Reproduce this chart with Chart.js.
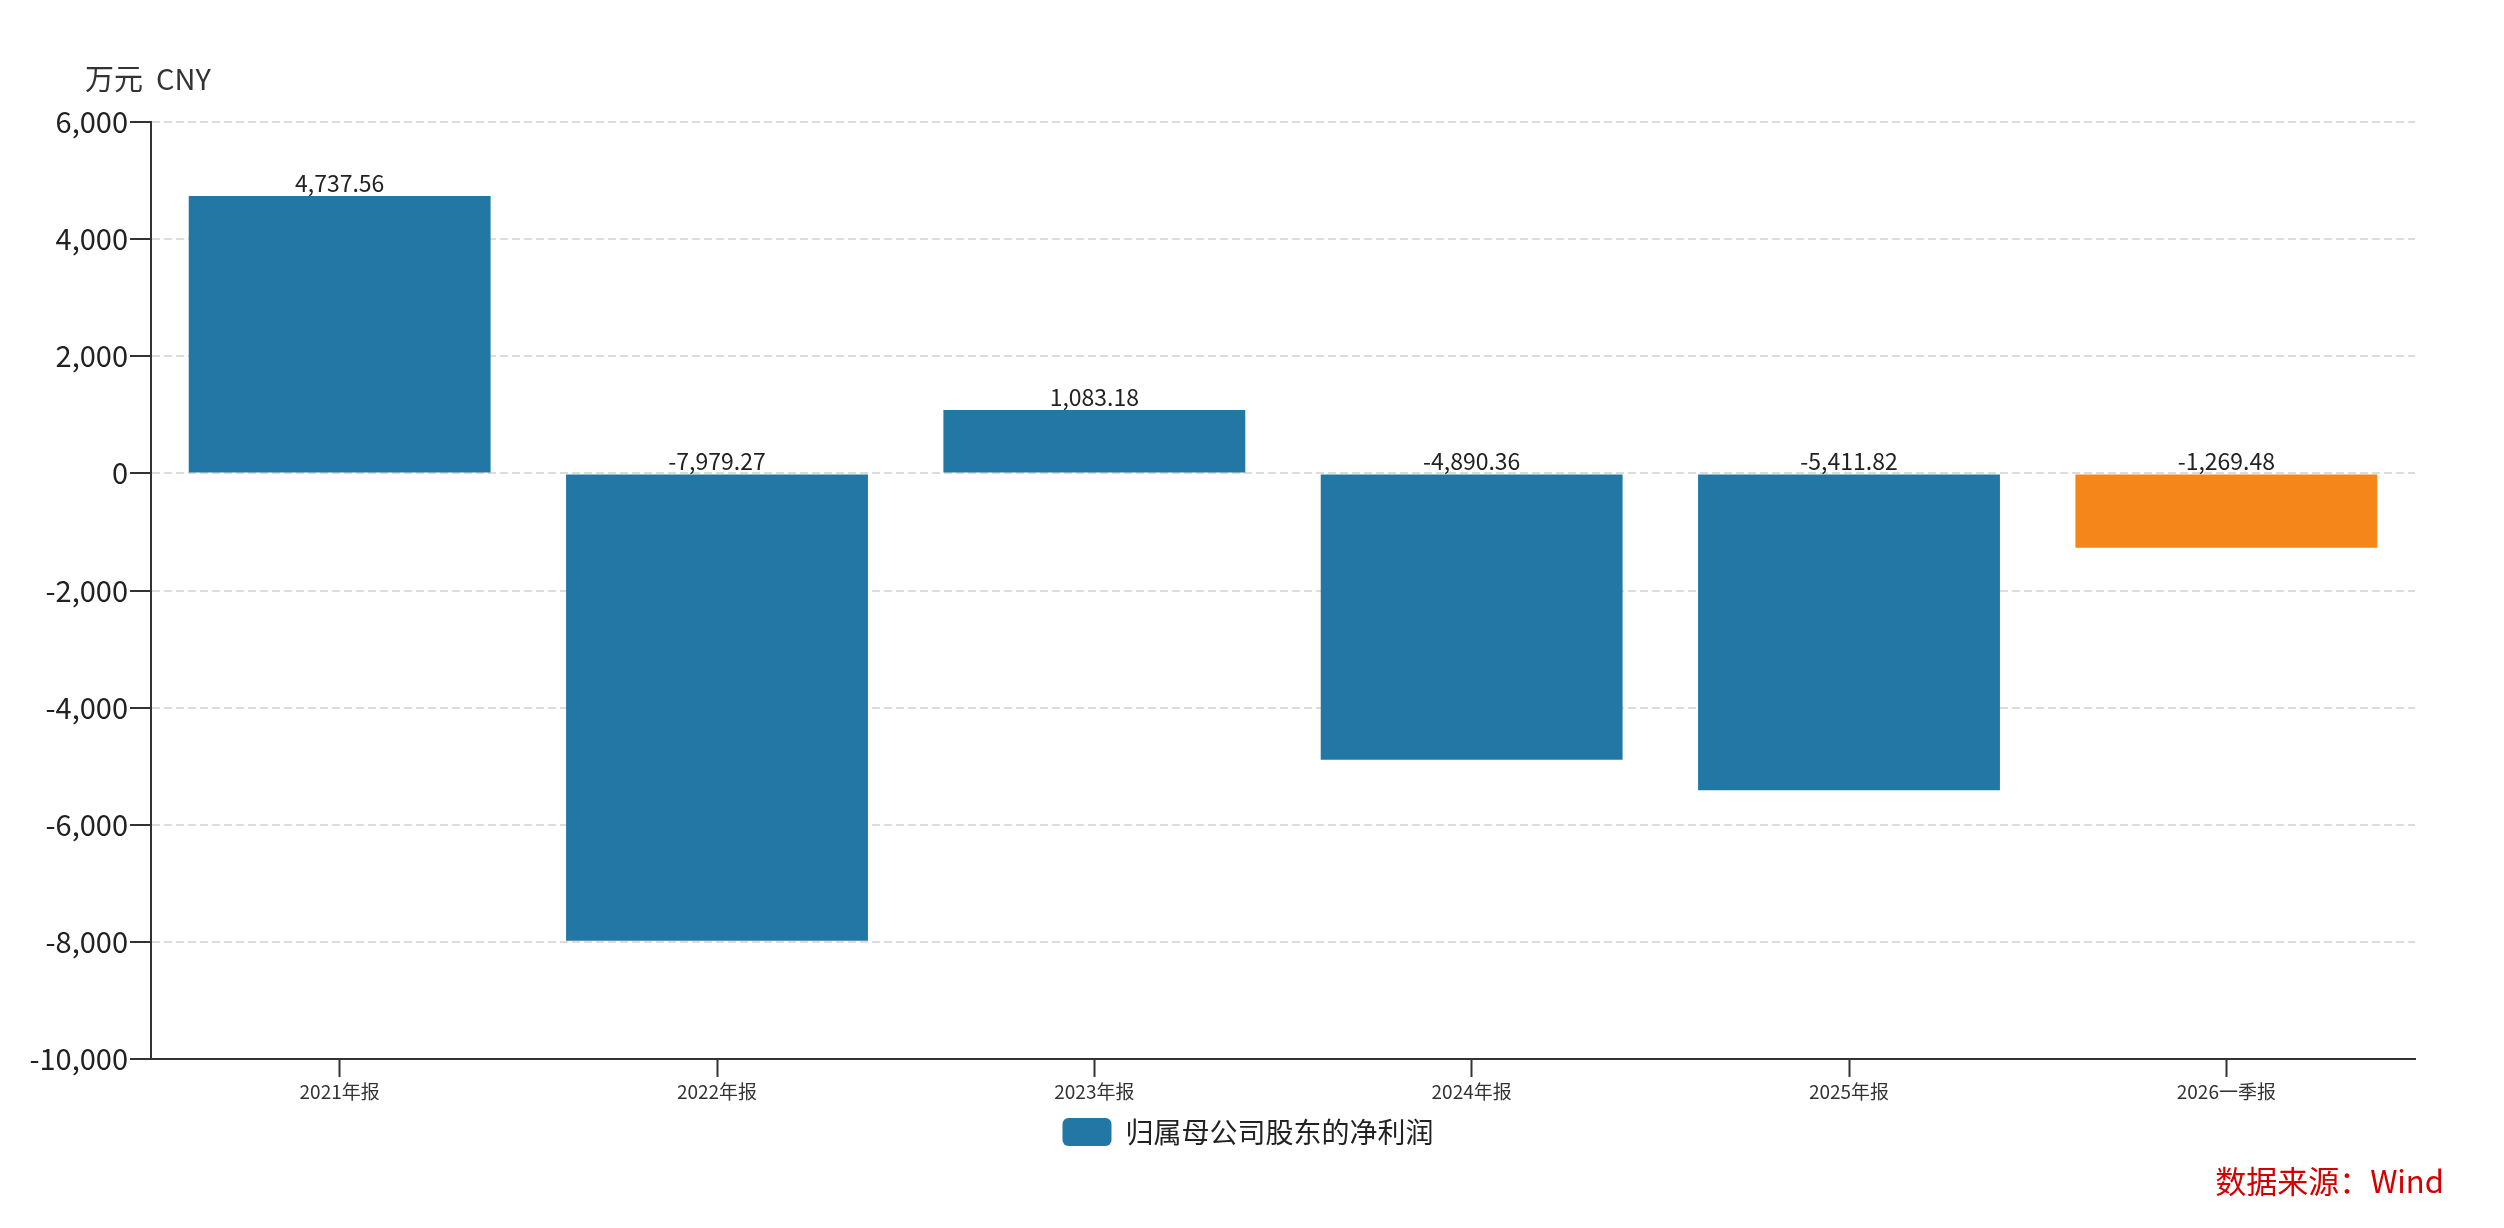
<!DOCTYPE html>
<html>
<head>
<meta charset="utf-8">
<script src="https://cdn.jsdelivr.net/npm/chart.js@4.4.1/dist/chart.umd.min.js"></script>
<style>
  html, body { margin: 0; padding: 0; background: #ffffff; }
  canvas { display: block; }
</style>
</head>
<body>
<canvas id="c" width="2504" height="1228"></canvas>
<script>
// ---- data ----
const categories = ['2021年报', '2022年报', '2023年报', '2024年报', '2025年报', '2026一季报'];
const netProfit = [4737.56, -7979.27, 1083.18, -4890.36, -5411.82, -1269.48];
const seriesName = '归属母公司股东的净利润';
const yTicks = [-10000, -8000, -6000, -4000, -2000, 0, 2000, 4000, 6000];
const unitLabel = '万元  CNY';
const sourceLabel = '数据来源：Wind';

const BLUE = '#2377a4';
const ORANGE = '#f5871a';
const FONT = "'Noto Sans CJK SC', 'Noto Sans', sans-serif";

Chart.defaults.font.family = FONT;

const fmt2 = v => v.toLocaleString('en-US', {minimumFractionDigits: 2, maximumFractionDigits: 2});

const extrasPlugin = {
  id: 'extras',
  beforeDraw(chart) {
    // centre the legend like the reference (shifted towards the plot area)
    if (chart.legend) { chart.legend.left = 81; }
  },
  afterDatasetsDraw(chart) {
    const ctx = chart.ctx;
    const meta = chart.getDatasetMeta(0);
    ctx.save();
    ctx.font = '23px ' + FONT;
    ctx.fillStyle = '#222';
    ctx.textAlign = 'center';
    ctx.textBaseline = 'alphabetic';
    meta.data.forEach((el, i) => {
      const top = Math.min(el.y, el.base);
      ctx.fillText(fmt2(netProfit[i]), el.x, top - 4);
    });
    ctx.restore();
  },
  afterDraw(chart) {
    const ctx = chart.ctx;
    ctx.save();
    ctx.font = '29px ' + FONT;
    ctx.fillStyle = '#333';
    ctx.textAlign = 'left';
    ctx.textBaseline = 'middle';
    ctx.fillText(unitLabel, 85, 79);
    ctx.font = '31px ' + FONT;
    ctx.fillStyle = '#d40000';
    ctx.textAlign = 'right';
    ctx.fillText(sourceLabel, 2444, 1181);
    ctx.restore();
  }
};

new Chart(document.getElementById('c'), {
  type: 'bar',
  data: {
    labels: categories,
    datasets: [{
      label: seriesName,
      data: netProfit,
      backgroundColor: (c) => (c.dataIndex === netProfit.length - 1 ? ORANGE : BLUE),
      borderWidth: 0,
      categoryPercentage: 1.0,
      barPercentage: 0.8
    }]
  },
  options: {
    responsive: false,
    animation: false,
    devicePixelRatio: 1,
    layout: { padding: { left: 0, right: 89, top: 122, bottom: 72 } },
    plugins: {
      legend: {
        display: true,
        position: 'bottom',
        labels: {
          boxWidth: 49,
          boxHeight: 28,
          padding: 10,
          useBorderRadius: true,
          borderRadius: 6,
          color: '#222',
          font: { size: 28, family: FONT }
        }
      },
      tooltip: { enabled: false },
      title: { display: false }
    },
    scales: {
      x: {
        offset: true,
        grid: {
          offset: false,
          drawOnChartArea: false,
          drawTicks: true,
          tickLength: 18,
          tickColor: '#333',
          tickWidth: 2
        },
        border: { display: true, color: '#333', width: 2 },
        ticks: {
          color: '#333',
          padding: 3,
          maxRotation: 0,
          autoSkip: false,
          font: { size: 19, family: FONT }
        },
        afterFit(scale) { scale.height = 49; }
      },
      y: {
        min: -10000,
        max: 6000,
        afterBuildTicks(scale) { scale.ticks = yTicks.map(v => ({ value: v })); },
        grid: {
          color: '#dcdcdc',
          lineWidth: 2,
          drawTicks: true,
          tickLength: 21,
          tickColor: '#333',
          tickWidth: 2
        },
        border: { display: true, color: '#333', width: 2, dash: [8, 4] },
        ticks: {
          color: '#222',
          padding: 2,
          font: { size: 29, family: FONT },
          callback: (v) => Number(v).toLocaleString('en-US')
        },
        afterFit(scale) { scale.width = 151; }
      }
    }
  },
  plugins: [extrasPlugin]
});
</script>
</body>
</html>
